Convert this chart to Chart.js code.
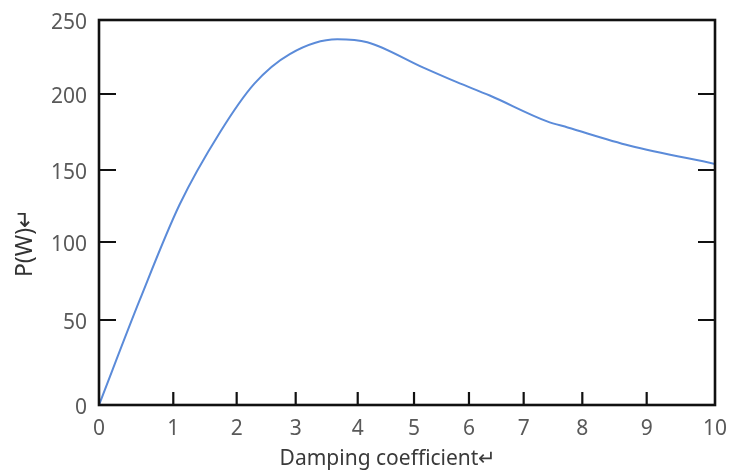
<!DOCTYPE html>
<html><head><meta charset="utf-8">
<script src="https://cdn.jsdelivr.net/npm/chart.js@4/dist/chart.umd.min.js"></script>
<style>html,body{margin:0;padding:0;background:#fff;}#wrap{width:734px;height:470px;}</style>
</head><body><div id="wrap"><canvas id="c" width="734" height="470"></canvas></div>
<script>
// ---- data ----
const dampingCoefficient = [0, 0.55, 1.1, 1.74, 2.3, 2.9, 3.67, 4.17, 5.16, 5.78, 6.38, 7.4, 7.75, 8.74, 10];
const powerW = [0, 63, 126, 175, 207, 227, 237, 235, 218, 208, 199, 182, 178, 166, 154];
const xTickLabels = ['0','1','2','3','4','5','6','7','8','9','10'];
const yTickLabels = ['0','50','100','150','200','250'];
const xAxisTitle = 'Damping coefficient\u21B5';
const yAxisTitle = 'P(W)\u21B5';

// ---- axis calibration: the reference axes are not evenly spaced ----
const X_TICK_FRACTIONS = [0, 0.1206, 0.2235, 0.3193, 0.4200, 0.5114, 0.6006, 0.6894, 0.7846, 0.8891, 1];
const Y_TICK_FRACTIONS = [0, 0.2208, 0.4234, 0.6104, 0.8078, 1];

function warp(fr, u){
  const n = fr.length - 1, t = u * n;
  if (t <= 0) return fr[0] + (fr[1]-fr[0]) * t;
  if (t >= n) return fr[n] + (fr[n]-fr[n-1]) * (t-n);
  const i = Math.floor(t);
  return fr[i] + (fr[i+1]-fr[i]) * (t-i);
}
function unwarp(fr, d){
  const n = fr.length - 1;
  for (let i = 0; i < n; i++){
    if (d <= fr[i+1] || i === n-1) return (i + (d-fr[i])/(fr[i+1]-fr[i])) / n;
  }
  return 1;
}
class CalibratedLinear extends Chart.LinearScale {
  _fr(){ return this.axis === 'x' ? X_TICK_FRACTIONS : Y_TICK_FRACTIONS; }
  getPixelForValue(v){
    if (v === null || v === undefined || isNaN(v)) return NaN;
    return this.getPixelForDecimal(warp(this._fr(), (v - this.min) / (this.max - this.min)));
  }
  getValueForPixel(p){
    return this.min + unwarp(this._fr(), this.getDecimalForPixel(p)) * (this.max - this.min);
  }
}
CalibratedLinear.id = 'calibratedLinear';
CalibratedLinear.defaults = Chart.LinearScale.defaults;
Chart.register(CalibratedLinear);

const frameAndTitles = {
  id: 'frameAndTitles',
  afterDatasetsDraw(chart){
    const {ctx, chartArea: a, scales: {x, y}} = chart;
    ctx.save();
    ctx.strokeStyle = '#111';
    ctx.lineWidth = 2.6;
    ctx.strokeRect(a.left, a.top, a.right - a.left, a.bottom - a.top);
    ctx.lineWidth = 2.2;
    ctx.beginPath();
    x.ticks.forEach((t, i) => {
      if (i === 0 || i === x.ticks.length - 1) return;
      const px = x.getPixelForTick(i);
      ctx.moveTo(px, a.bottom); ctx.lineTo(px, a.bottom - 13);
    });
    y.ticks.forEach((t, i) => {
      if (i === 0 || i === y.ticks.length - 1) return;
      const py = y.getPixelForTick(i);
      ctx.moveTo(a.left, py); ctx.lineTo(a.left + 17, py);
      ctx.moveTo(a.right, py); ctx.lineTo(a.right - 17, py);
    });
    ctx.stroke();
    // axis titles
    ctx.fillStyle = '#3a3a3a';
    ctx.font = '21px "Noto Sans", sans-serif';
    ctx.textAlign = 'center';
    ctx.textBaseline = 'alphabetic';
    ctx.fillText(xAxisTitle, 388, 465);
    ctx.translate(32, 243);
    ctx.rotate(-Math.PI / 2);
    ctx.font = '23px "Noto Sans", sans-serif';
    ctx.fillStyle = '#333';
    ctx.fillText(yAxisTitle, 0, 0);
    ctx.restore();
  }
};

new Chart(document.getElementById('c'), {
  type: 'line',
  data: {
    datasets: [{
      data: dampingCoefficient.map((d, i) => ({x: d, y: powerW[i]})),
      borderColor: '#5B8BD9',
      borderWidth: 2,
      pointRadius: 0,
      fill: false,
      cubicInterpolationMode: 'monotone'
    }]
  },
  options: {
    responsive: false,
    animation: false,
    devicePixelRatio: 1,
    layout: {padding: {top: 20, right: 19, left: 0, bottom: 0}},
    plugins: {legend: {display: false}, tooltip: {enabled: false}},
    scales: {
      x: {
        type: 'calibratedLinear', min: 0, max: 10,
        afterFit: s => { s.height = 65; s.paddingLeft = 0; s.paddingRight = 0; },
        grid: {display: false, drawTicks: false},
        border: {display: false},
        ticks: {stepSize: 1, padding: 11, color: '#595959',
          font: {family: "'Noto Sans', sans-serif", size: 21},
          callback: (v, i) => xTickLabels[i]}
      },
      y: {
        type: 'calibratedLinear', min: 0, max: 250,
        afterFit: s => { s.width = 99; s.paddingTop = 0; s.paddingBottom = 0; },
        grid: {display: false, drawTicks: false},
        border: {display: false},
        ticks: {stepSize: 50, padding: 12, labelOffset: 3, color: '#595959',
          font: {family: "'Noto Sans', sans-serif", size: 21},
          callback: (v, i) => yTickLabels[i]}
      }
    }
  },
  plugins: [frameAndTitles]
});
</script>
</body></html>
